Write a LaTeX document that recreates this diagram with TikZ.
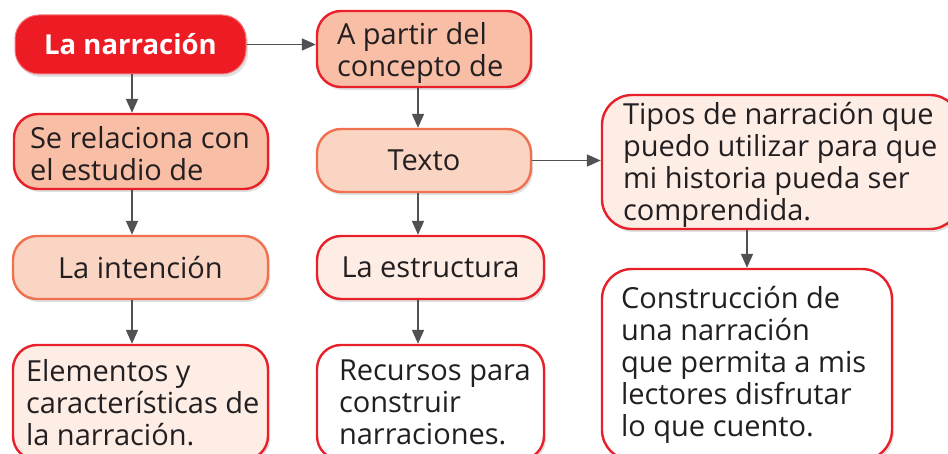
\documentclass[tikz,border=0pt]{standalone}
\usepackage{fontspec}
\setmainfont{Open Sans}
\usetikzlibrary{arrows.meta,shadows}
\definecolor{mainred}{HTML}{ED1C24}
\definecolor{bred}{HTML}{E8202A}
\definecolor{borange}{HTML}{F07150}
\definecolor{salmon}{HTML}{F9BFA6}
\definecolor{lsalmon}{HTML}{FBD5C4}
\definecolor{pale}{HTML}{FDEDE5}
\definecolor{arrgray}{HTML}{505153}
\definecolor{txt}{HTML}{231F20}
\begin{document}
\begin{tikzpicture}[x=1pt,y=-1pt,
  box/.style={draw=bred, line width=2.4pt, rounded corners=24pt, inner sep=0pt,
    font=\fontsize{29}{32}\selectfont, text=txt, align=center,
    drop shadow={shadow xshift=2pt, shadow yshift=-3pt, fill=black, opacity=0.12}},
  lbl/.style={inner sep=0pt, font=\fontsize{29}{32}\selectfont, text=txt, align=left, anchor=west},
  arr/.style={draw=arrgray, line width=1.8pt, -{Triangle[length=14pt,width=12pt]}}]
\useasboundingbox (0,0) rectangle (948,454);
% column 1
\node[box, fill=mainred, draw=mainred!60, line width=1pt, text=white, font=\fontsize{27.5}{31}\selectfont\bfseries,
  minimum width=231pt, minimum height=59pt] (narr) at (130.5,44.5) {La narración};
\node[box, fill=salmon, minimum width=254pt, minimum height=75pt] (serel) at (141,151.5) {};
\node[lbl] (serelT) at ([xshift=17pt,yshift=-2pt]serel.west) {Se relaciona con\\el estudio de};
\node[box, fill=lsalmon, draw=borange, minimum width=255pt, minimum height=63pt] (intencion) at (140.5,267.5) {La intención};
\node[box, fill=pale, minimum width=255pt, minimum height=115pt] (elem) at (140.5,402.5) {};
\node[lbl] (elemT) at ([xshift=14pt]elem.west) {Elementos y\\características de\\la narración.};
% column 2
\node[box, fill=salmon, minimum width=214pt, minimum height=76pt] (apartir) at (424,49) {};
\node[lbl] (apartirT) at ([xshift=21pt,yshift=-4pt]apartir.west) {A partir del\\concepto de};
\node[box, fill=lsalmon, draw=borange, minimum width=214pt, minimum height=63pt] (texto) at (424,160.5) {Texto};
\node[box, fill=pale, minimum width=227pt, minimum height=63pt] (estr) at (430.5,267.5) {La estructura};
\node[box, fill=white, minimum width=227pt, minimum height=115pt] (recur) at (430.5,402.5) {};
\node[lbl] (recurT) at ([xshift=23pt]recur.west) {Recursos para\\construir\\narraciones.};
% column 3
\node[box, fill=pale, rounded corners=30pt, minimum width=358pt, minimum height=134pt] (tipos) at (781,162) {};
\node[lbl] (tiposT) at ([xshift=22pt,yshift=-3pt]tipos.west) {Tipos de narración que\\puedo utilizar para que\\mi historia pueda ser\\comprendida.};
\node[box, fill=white, rounded corners=30pt, minimum width=290pt, minimum height=191pt] (constr) at (747,364.5) {};
\node[lbl] (constrT) at ([xshift=20pt]constr.west) {Construcción de\\una narración\\que permita a mis\\lectores disfrutar\\lo que cuento.};
% arrows
\coordinate (c1) at (132,0);
\coordinate (c2) at (418,0);
\draw[arr] (narr.east) -- (narr.east -| apartir.west);
\draw[arr] (c1 |- narr.south) -- (c1 |- serel.north);
\draw[arr] (c1 |- serel.south) -- (c1 |- intencion.north);
\draw[arr] (c1 |- intencion.south) -- (c1 |- elem.north);
\draw[arr] (c2 |- apartir.south) -- (c2 |- texto.north);
\draw[arr] (texto.east) -- (texto.east -| tipos.west);
\draw[arr] (c2 |- texto.south) -- (c2 |- estr.north);
\draw[arr] (c2 |- estr.south) -- (c2 |- recur.north);
\draw[arr] (constr.north |- tipos.south) -- (constr.north);
\end{tikzpicture}
\end{document}
